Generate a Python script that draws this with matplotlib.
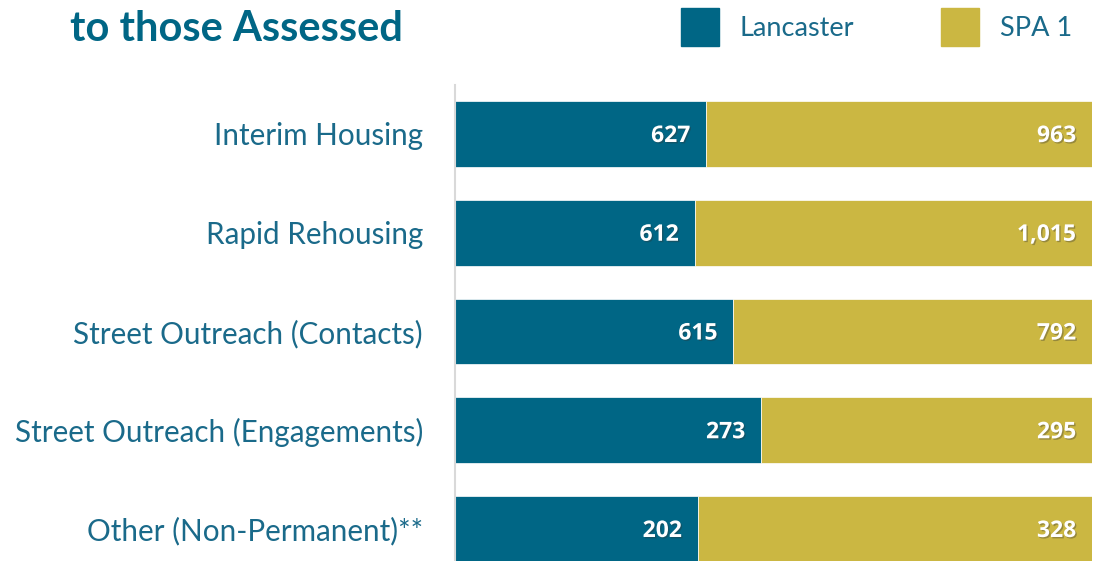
import numpy as np
import matplotlib.pyplot as plt
import matplotlib.patheffects as pe
from matplotlib.lines import Line2D

categories = ["Interim Housing", "Rapid Rehousing", "Street Outreach (Contacts)",
              "Street Outreach (Engagements)", "Other (Non-Permanent)**"]
lancaster = [627, 612, 615, 273, 202]
spa1 = [963, 1015, 792, 295, 328]
series_names = ["Lancaster", "SPA 1"]

TEAL = "#006685"
GOLD = "#cbb742"
TEXT = "#1a6a8a"

plt.rcParams["font.family"] = ["Lato", "DejaVu Sans"]

lan = np.array(lancaster, dtype=float)
spa = np.array(spa1, dtype=float)
tot = lan + spa
lan_share = lan / tot
spa_share = spa / tot

fig = plt.figure(figsize=(10.99, 5.61), dpi=100)
ax = fig.add_axes([455 / 1099, 0, (1092 - 455) / 1099, 1 - 85 / 561])

y = np.arange(len(categories))
h = 0.668
ax.barh(y, lan_share, height=h, color=TEAL, edgecolor="white", linewidth=0.5)
ax.barh(y, spa_share, left=lan_share, height=h, color=GOLD, edgecolor="white", linewidth=0.5)

ax.set_xlim(0, 1)
ax.set_ylim(4 + 32 / 98.75, -49 / 98.75)
ax.set_yticks(y)
ax.set_yticklabels(categories, fontsize=21.3, color=TEXT)
ax.tick_params(axis="y", length=0, pad=23)
ax.set_xticks([])
for s in ["top", "right", "bottom"]:
    ax.spines[s].set_visible(False)
ax.spines["left"].set_color("#d9d9d9")
ax.spines["left"].set_linewidth(1.5)

shadow = [pe.SimplePatchShadow(offset=(1, -1), alpha=0.35, shadow_rgbFace="#333333"), pe.Normal()]
for i in range(len(categories)):
    ax.annotate(f"{lancaster[i]:,}", xy=(lan_share[i], y[i]), xytext=(-16, -2),
                textcoords="offset pixels", ha="right", va="center",
                fontsize=16.5, fontweight="bold", color="white", family="Open Sans",
                path_effects=shadow)
    ax.annotate(f"{spa1[i]:,}", xy=(1, y[i]), xytext=(-16, -2),
                textcoords="offset pixels", ha="right", va="center",
                fontsize=16.5, fontweight="bold", color="white", family="Open Sans",
                path_effects=shadow)

fig.text(70 / 1099, 1 - 29 / 561, "to those Assessed", fontsize=30, fontweight="bold",
         color=TEAL, ha="left", va="center")

handles = [Line2D([], [], marker="s", linestyle="none", markersize=28, color=c)
           for c in (TEAL, GOLD)]
fig.legend(handles, series_names, ncol=2, loc="center left",
           bbox_to_anchor=(673 / 1099, 1 - 29 / 561), frameon=False,
           fontsize=19.5, labelcolor=TEXT, handletextpad=0.45, columnspacing=2.93,
           borderaxespad=0, borderpad=0)

fig.savefig("out.png", dpi=100)
